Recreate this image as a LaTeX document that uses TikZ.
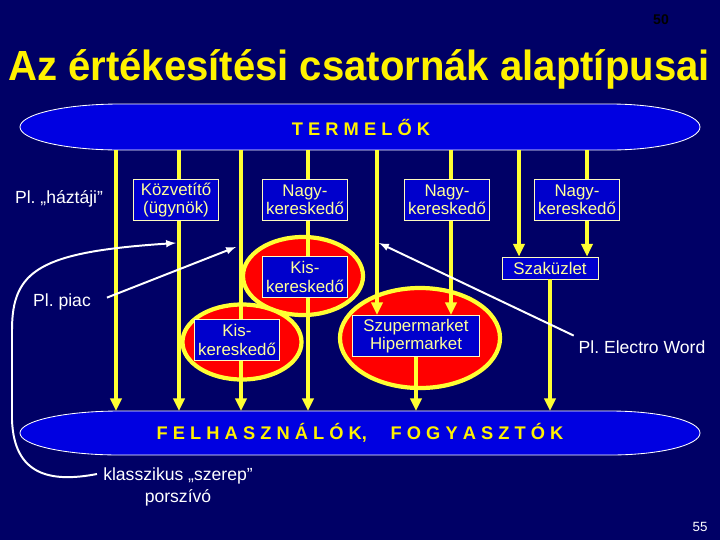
\documentclass[tikz,border=0pt]{standalone}
\usepackage{fontspec}
\setmainfont{Liberation Sans}
\usetikzlibrary{arrows.meta,shapes.geometric,calc}
\definecolor{slide}{RGB}{0,0,102}
\definecolor{ovalblue}{RGB}{0,0,225}
\definecolor{boxblue}{RGB}{0,0,204}
\definecolor{chanyellow}{RGB}{255,255,51}
\definecolor{boxtext}{RGB}{255,255,153}
\frenchspacing
\tikzset{
  title/.style={text=yellow,font=\bfseries\fontsize{30}{30}\selectfont},
  bigoval/.style={fill=ovalblue,draw=white,line width=0.6pt},
  ovaltext/.style={text=yellow,font=\bfseries\fontsize{13}{14}\selectfont},
  shopoval/.style={ellipse,fill=red,draw=chanyellow,line width=3pt,inner sep=0pt},
  shopbox/.style={draw=white!75!yellow,line width=0.6pt,fill=boxblue,text=boxtext,align=center,
    inner sep=1pt,minimum width=2.125cm,minimum height=1.025cm,font=\fontsize{12}{13}\selectfont},
  chan/.style={draw=chanyellow,line width=2.6pt},
  chanarrow/.style={chan,-{Triangle[width=8pt,length=9pt]}},
  note/.style={text=white,font=\fontsize{12.5}{15.5}\selectfont},
  notearrow/.style={-latex,white,line width=1.4pt}
}

\begin{document}
\begin{tikzpicture}[x=0.025cm,y=-0.025cm]
      \fill[slide] (0,0) rectangle (720,540);
      \useasboundingbox (0,0) rectangle (720,540);

      \node[text=black,font=\bfseries\fontsize{10}{10}\selectfont] (page) at (661,20) {50};
      \node[title,anchor=base] (title) at (359,80) {\scalebox{0.95}[1]{Az értékesítési csatornák alaptípusai}};

      \draw[bigoval] (120,104) -- (610,104) arc[start angle=-90,end angle=90,x radius=90,y radius=23]
        -- (120,150) arc[start angle=90,end angle=270,x radius=100,y radius=23] -- cycle;
      \draw[bigoval] (120,411) -- (610,411) arc[start angle=-90,end angle=90,x radius=90,y radius=22]
        -- (120,455) arc[start angle=90,end angle=270,x radius=100,y radius=22] -- cycle;
      \node[ovaltext] (termelok) at (361,127) {T E R M E L Ő K};
      \node[ovaltext] (felh) at (360,433) {F E L H A S Z N Á L Ó K,\hspace{1.3em}F O G Y A S Z T Ó K};

      \node[shopoval,minimum width=3cm,minimum height=1.95cm] (kisov2) at (303,276) {};
      \node[shopoval,minimum width=2.975cm,minimum height=1.875cm] (kisov1) at (242,342) {};
      \node[shopoval,minimum width=4cm,minimum height=2.5cm] (szupov) at (420,338) {};

      \foreach \i/\x in {1/116,2/179,3/241,4/308,5/377,6/451,7/519,8/587}
        \coordinate (t\i) at (\x,150);
      \coordinate (f) at (360,411);

      \node[shopbox] (kozv) at (176,200) {Közvetítő\\(ügynök)};
      \node[shopbox] (nagy1) at (305,200) {Nagy-\\kereskedő};
      \node[shopbox] (nagy2) at (447,200) {Nagy-\\kereskedő};
      \node[shopbox] (nagy3) at (577,200) {Nagy-\\kereskedő};
      \node[shopbox,minimum width=2.4cm,minimum height=0.55cm] (szak) at (550,268) {Szaküzlet};
      \node[shopbox] (kis2) at (305,277) {Kis-\\kereskedő};
      \node[shopbox] (kis1) at (237,340) {Kis-\\kereskedő};
      \node[shopbox,minimum width=3.175cm] (szuper) at (416,336) {Szupermarket\\Hipermarket};

      \draw[chanarrow] (t1) -- (t1 |- f);
      \draw[chan] (t2) -- (t2 |- kozv.north);
      \draw[chanarrow] (t2 |- kozv.south) -- (t2 |- f);
      \draw[chan] (t3) -- (t3 |- kis1.north);
      \draw[chanarrow] (t3 |- kis1.south) -- (t3 |- f);
      \draw[chan] (t4) -- (t4 |- nagy1.north);
      \draw[chan] (t4 |- nagy1.south) -- (t4 |- kis2.north);
      \draw[chanarrow] (t4 |- kis2.south) -- (t4 |- f);
      \draw[chanarrow] (t5) -- (t5 |- szuper.north);
      \draw[chan] (t6) -- (t6 |- nagy2.north);
      \draw[chanarrow] (t6 |- nagy2.south) -- (t6 |- szuper.north);
      \draw[chanarrow] (t7) -- (t7 |- szak.north);
      \draw[chan] (t8) -- (t8 |- nagy3.north);
      \draw[chanarrow] (t8 |- nagy3.south) -- (t8 |- szak.north);
      \draw[chanarrow] (szuper.south) -- (szuper.south |- f);
      \draw[chanarrow] (szak.south) -- (szak.south |- f);

      \node[note] (hazt) at (59,199) {Pl. „háztáji”};
      \node[note] (piac) at (62,302) {Pl. piac};
      \node[note] (electro) at (642,347) {Pl. Electro Word};
      \node[note,align=center] (klassz) at (178,487) {klasszikus „szerep”\\porszívó};
      \node[text=white,font=\fontsize{9.5}{9.5}\selectfont] (page2) at (700,527) {55};

      \coordinate (a2) at (176,243);
      \coordinate (a3) at (236,247);
      \coordinate (a5) at (379,243);
      \coordinate (k) at (97,474);
      \draw[notearrow,shorten <=0.3cm] (piac.east) -- (a3);
      \draw[notearrow] (electro.north west) -- (a5);
      \draw[notearrow] (k) .. controls (50,483) and (14,475) .. (12,420) -- (12,330)
        .. controls (12,270) and (40,252) .. (a2);
\end{tikzpicture}
\end{document}
